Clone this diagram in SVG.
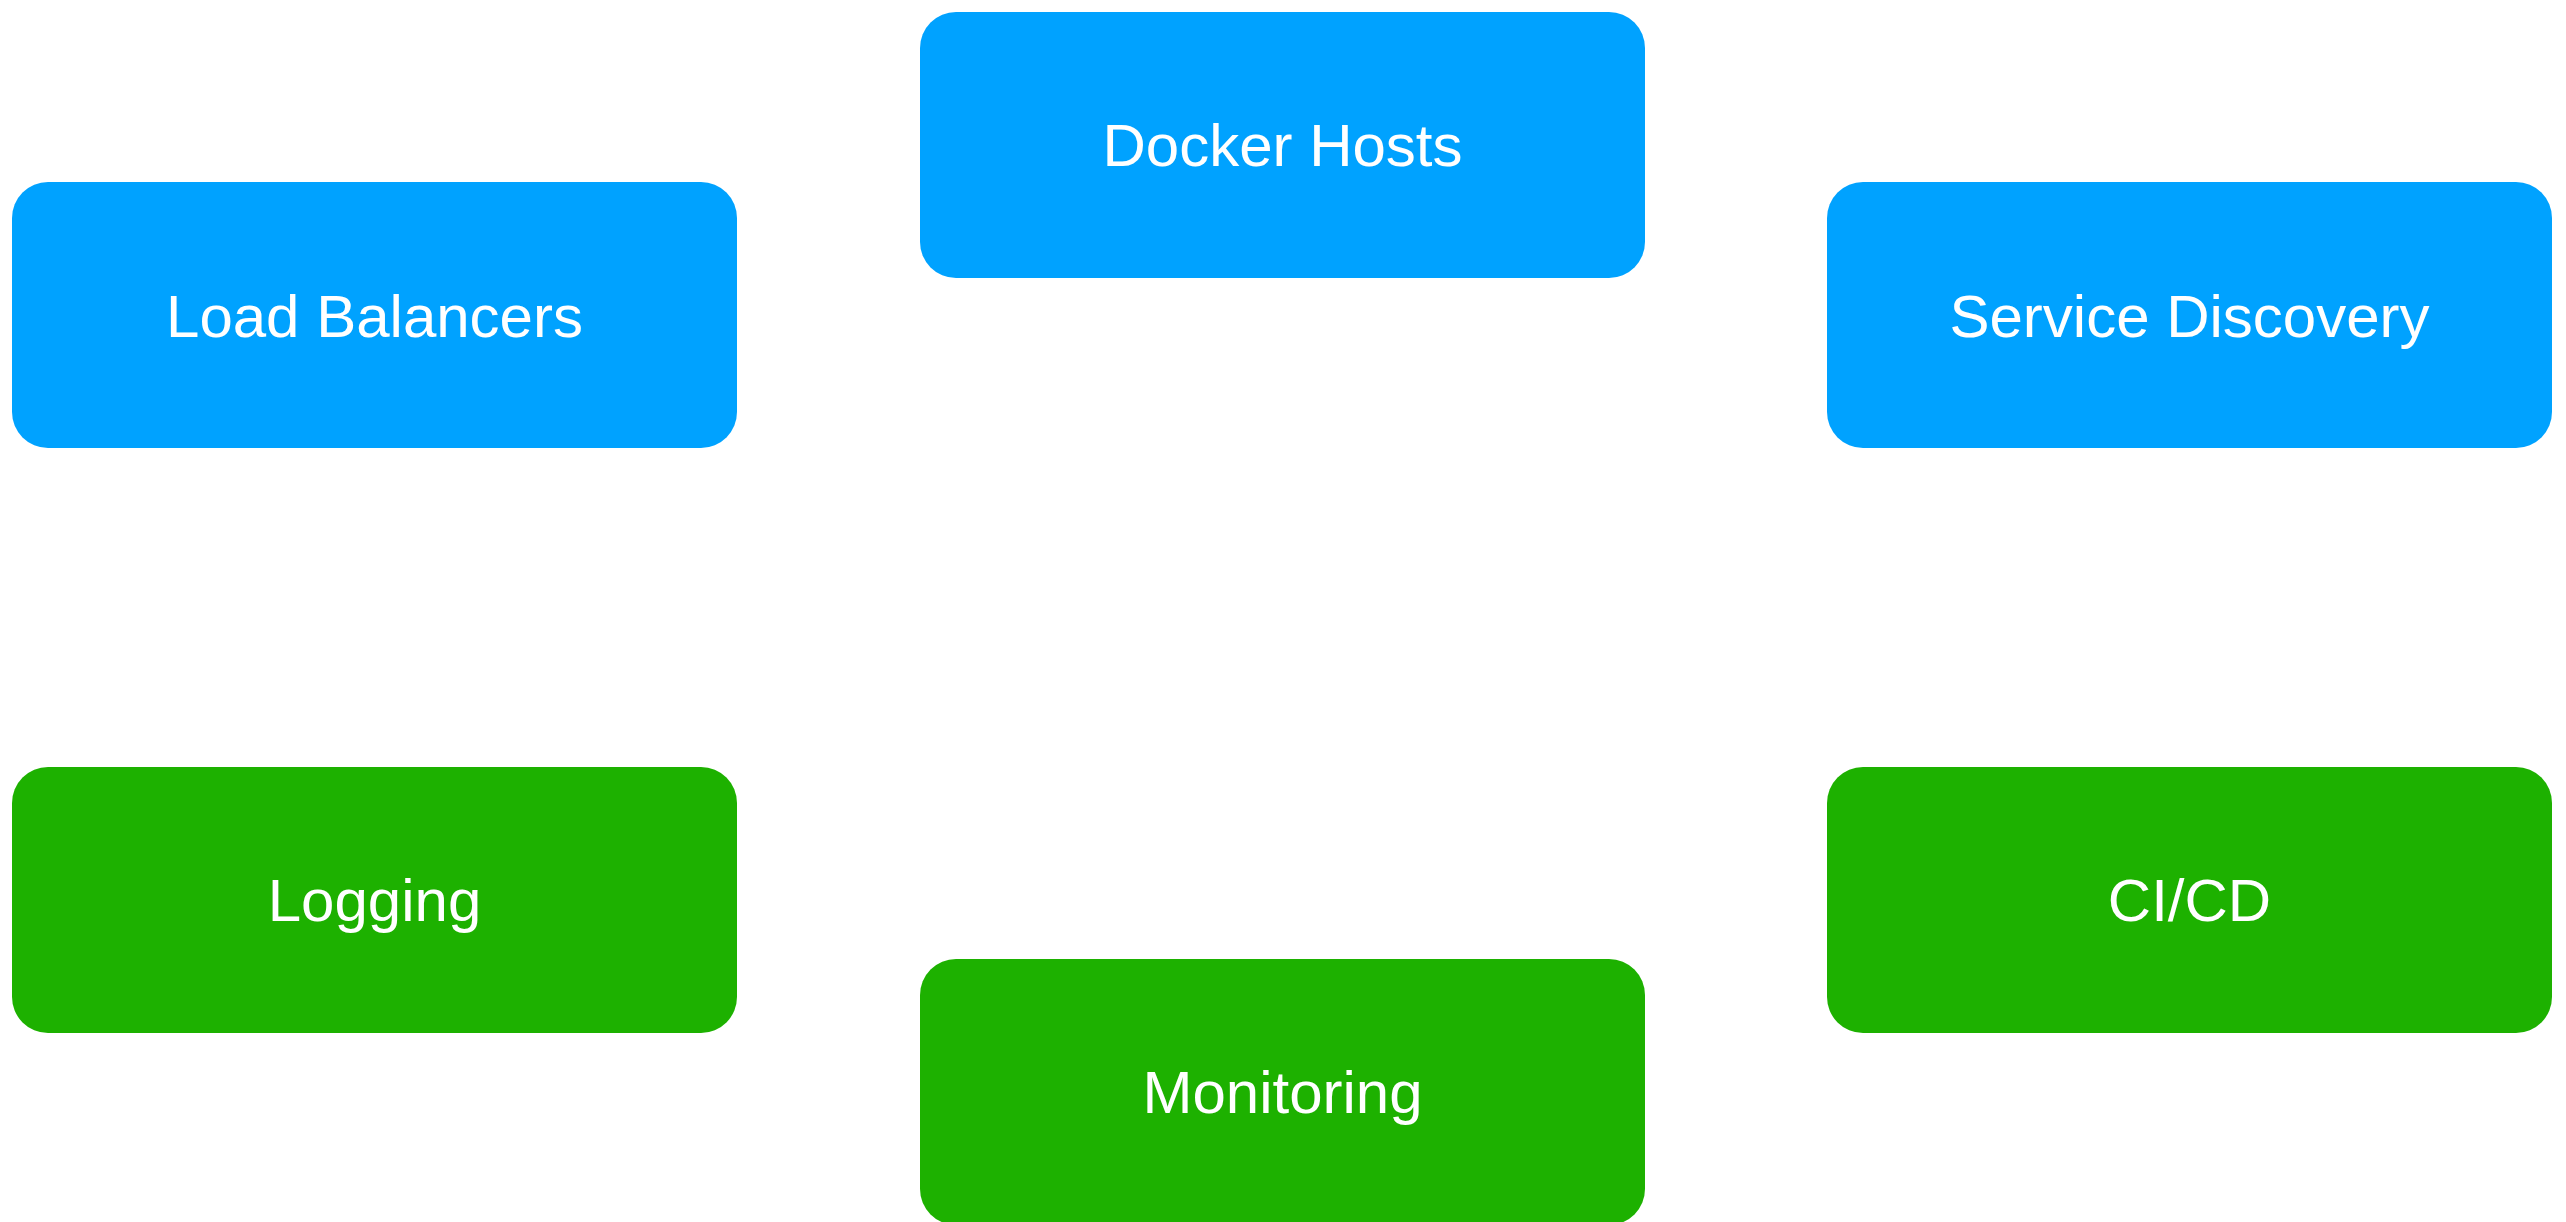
<svg xmlns="http://www.w3.org/2000/svg" width="2566" height="1222" viewBox="0 0 2566 1222">
  <style>
    .box { stroke: none; }
    .blue { fill: #00A2FF; }
    .green { fill: #1DB100; }
    .label { font-family: "Liberation Sans", Arial, Helvetica, sans-serif; font-size: 60px; fill: #FFFFFF; text-anchor: middle; }
  </style>
  <rect x="0" y="0" width="2566" height="1222" fill="#FFFFFF"/>
  <g id="connectors"></g>
  <g id="docker-hosts">
    <rect class="box blue" x="920" y="12" width="725" height="266" rx="36" ry="36"/>
    <text class="label" x="1282.5" y="166">Docker Hosts</text>
  </g>
  <g id="load-balancers">
    <rect class="box blue" x="12" y="182" width="725" height="266" rx="36" ry="36"/>
    <text class="label" x="374.5" y="337">Load Balancers</text>
  </g>
  <g id="service-discovery">
    <rect class="box blue" x="1827" y="182" width="725" height="266" rx="36" ry="36"/>
    <text class="label" x="2189.5" y="337">Service Discovery</text>
  </g>
  <g id="logging">
    <rect class="box green" x="12" y="767" width="725" height="266" rx="36" ry="36"/>
    <text class="label" x="374.5" y="921">Logging</text>
  </g>
  <g id="ci-cd">
    <rect class="box green" x="1827" y="767" width="725" height="266" rx="36" ry="36"/>
    <text class="label" x="2189.5" y="921">CI/CD</text>
  </g>
  <g id="monitoring">
    <rect class="box green" x="920" y="959" width="725" height="266" rx="36" ry="36"/>
    <text class="label" x="1282.5" y="1113">Monitoring</text>
  </g>
</svg>
